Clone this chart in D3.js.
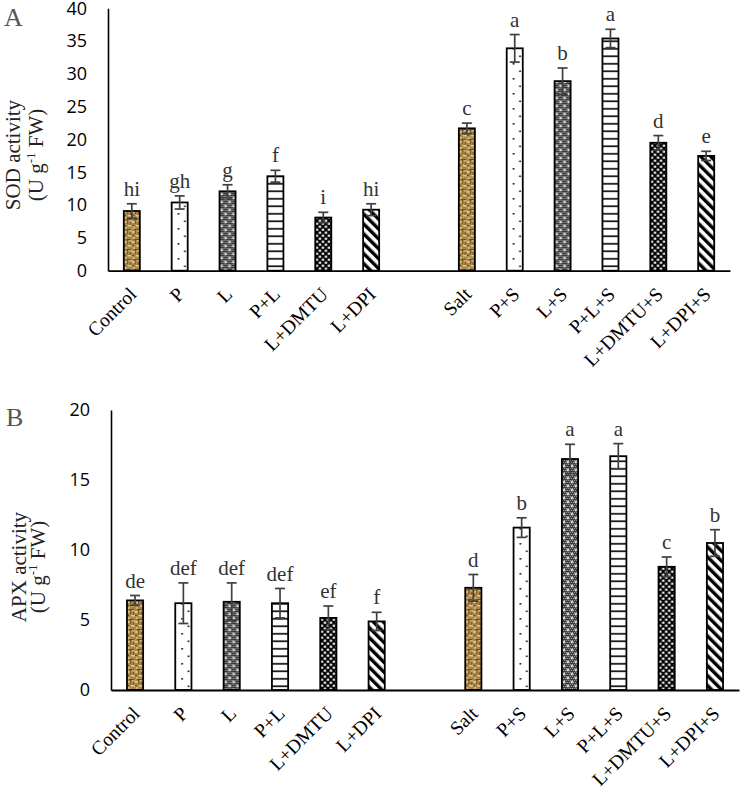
<!DOCTYPE html>
<html><head><meta charset="utf-8">
<script src="https://cdnjs.cloudflare.com/ajax/libs/d3/7.8.5/d3.min.js"></script>
<style>body{margin:0;background:#fff}svg{display:block}</style>
</head><body><svg id="c" width="740" height="789"></svg>
<script>
// ---------- data ----------
const categories = ["Control","P","L","P+L","L+DMTU","L+DPI","Salt","P+S","L+S","P+L+S","L+DMTU+S","L+DPI+S"];
const sodMean = [9.1,10.4,12.1,14.4,8.1,9.3,21.7,33.9,28.9,35.4,19.5,17.5];
const sodErr  = [1.1,1.0,1.0,0.9,0.8,0.9,0.8,2.1,2.0,1.4,1.1,0.7];
const sodLetters = ["hi","gh","g","f","i","hi","c","a","b","a","d","e"];
const sodTicks = [0,5,10,15,20,25,30,35,40];
const apxMean = [6.4,6.2,6.3,6.2,5.15,4.9,7.3,11.6,16.5,16.7,8.8,10.5];
const apxErr  = [0.35,1.45,1.35,1.05,0.85,0.65,0.95,0.7,1.05,0.9,0.7,0.95];
const apxLetters = ["de","def","def","def","ef","f","d","b","a","a","c","b"];
const apxTicks = [0,5,10,15,20];
const patternTypes = ["wood","dots","confetti","hlines","bigconfetti","diag"];

const svg = d3.select("#c");
const defs = svg.append("defs");

function makePattern(id, type, x0){
  const p = defs.append("pattern").attr("id", id).attr("patternUnits","userSpaceOnUse").attr("x", x0).attr("y", 0);
  if(type==="wood"){
    p.attr("width",8).attr("height",10);
    p.append("rect").attr("width",8).attr("height",10).attr("fill","#a9864a");
    [[0,1,3,2,"#dcc084"],[4,5,4,1.5,"#e2c98f"],[1,7,2,2,"#d4b677"],[5,0,3,1.5,"#cfae6c"],
     [3,0,1,4,"#6e5226"],[0,5,2,1,"#5e4520"],[6,2,1,3,"#745629"],[2,9,5,1,"#6a4e24"]]
      .forEach(r=>p.append("rect").attr("x",r[0]).attr("y",r[1]).attr("width",r[2]).attr("height",r[3]).attr("fill",r[4]));
  } else if(type==="dots"){
    p.attr("width",16).attr("height",15);
    p.append("rect").attr("width",16).attr("height",15).attr("fill","#fff");
    p.append("rect").attr("x",6).attr("y",3).attr("width",1.6).attr("height",1.6).attr("fill","#000");
    p.append("rect").attr("x",12.5).attr("y",10.5).attr("width",1.6).attr("height",1.6).attr("fill","#000");
  } else if(type==="confetti"){
    p.attr("width",8).attr("height",8);
    p.append("rect").attr("width",8).attr("height",8).attr("fill","#3a3a3a");
    for(let i=0;i<8;i+=2)for(let j=0;j<8;j+=2){
      p.append("rect").attr("x",i+((j/2)%2)).attr("y",j).attr("width",1).attr("height",1).attr("fill","#a0a0a0");
    }
    [[2,2],[6,6]].forEach(c=>{
      p.append("rect").attr("x",c[0]-1.5).attr("y",c[1]-0.5).attr("width",3).attr("height",1).attr("fill","#fff");
      p.append("rect").attr("x",c[0]-0.5).attr("y",c[1]-1.5).attr("width",1).attr("height",3).attr("fill","#fff");
    });
  } else if(type==="hlines"){
    p.attr("width",16).attr("height",7.5);
    p.append("rect").attr("width",16).attr("height",7.5).attr("fill","#fff");
    p.append("rect").attr("y",3).attr("width",16).attr("height",1.6).attr("fill","#000");
  } else if(type==="bigconfetti"){
    p.attr("width",6).attr("height",6);
    p.append("rect").attr("width",6).attr("height",6).attr("fill","#050505");
    p.append("rect").attr("x",0.6).attr("y",0.6).attr("width",2.2).attr("height",2.2).attr("fill","#fff");
    p.append("rect").attr("x",3.6).attr("y",3.6).attr("width",2.2).attr("height",2.2).attr("fill","#fff");
  } else if(type==="diag"){
    p.attr("width",7).attr("height",7).attr("patternTransform","rotate(-45)");
    p.append("rect").attr("width",7).attr("height",7).attr("fill","#fff");
    p.append("rect").attr("width",3.4).attr("height",7).attr("fill","#000");
  }
}

function drawPanel(cfg){
  const domain = categories.slice(0,6).concat(["__gap"], categories.slice(6));
  const x = d3.scaleBand().domain(domain).range([cfg.left, cfg.right]).paddingInner(0.665).paddingOuter(0.33);
  const y = d3.scaleLinear().domain([0, cfg.ticks[cfg.ticks.length-1]]).range([cfg.bottom, cfg.top]);
  const g = svg.append("g");

  // y axis
  const ya = g.append("g").attr("transform",`translate(${cfg.left},0)`)
    .call(d3.axisLeft(y).tickValues(cfg.ticks).tickSize(0).tickSizeOuter(0).tickPadding(21));
  ya.select(".domain").attr("stroke","#000").attr("stroke-width",1.6);
  ya.selectAll("text").attr("font-family","'Open Sans', sans-serif").attr("font-size",18).attr("fill","#000");

  // bars
  const data = categories.map((c,i)=>({c, i, m: cfg.mean[i], e: cfg.err[i], l: cfg.letters[i]}));
  data.forEach(d=>{ makePattern(`${cfg.id}-p${d.i}`, patternTypes[d.i%6], x(d.c)); });
  g.selectAll("rect.bar").data(data).join("rect").attr("class","bar")
    .attr("x", d=>x(d.c)).attr("width", x.bandwidth())
    .attr("y", d=>y(d.m)).attr("height", d=>y(0)-y(d.m))
    .attr("fill", d=>`url(#${cfg.id}-p${d.i})`).attr("stroke","#000").attr("stroke-width",1.8);

  // error bars
  const eg = g.selectAll("g.err").data(data).join("g").attr("class","err")
    .attr("stroke","#404040").attr("stroke-width",1.7);
  const cx = d=>x(d.c)+x.bandwidth()/2;
  eg.append("line").attr("x1",cx).attr("x2",cx).attr("y1",d=>y(d.m+d.e)).attr("y2",d=>y(d.m-d.e));
  eg.append("line").attr("x1",d=>cx(d)-5).attr("x2",d=>cx(d)+5).attr("y1",d=>y(d.m+d.e)).attr("y2",d=>y(d.m+d.e));
  eg.append("line").attr("x1",d=>cx(d)-5).attr("x2",d=>cx(d)+5).attr("y1",d=>y(d.m-d.e)).attr("y2",d=>y(d.m-d.e));

  // letters
  g.selectAll("text.let").data(data).join("text").attr("class","let")
    .attr("x",cx).attr("y",d=>y(d.m+d.e)-8).attr("text-anchor","middle")
    .attr("font-family","'Liberation Serif', serif").attr("font-size",21).attr("fill","#333")
    .text(d=>d.l);

  // x axis
  const xa = g.append("g").attr("transform",`translate(0,${cfg.bottom})`)
    .call(d3.axisBottom(x).tickSize(0).tickSizeOuter(0).tickFormat(d=>d==="__gap"?"":d));
  xa.select(".domain").attr("stroke","#000").attr("stroke-width",1.8);
  xa.selectAll("text").attr("font-family","'Liberation Serif', serif").attr("font-size",19.5).attr("fill","#000")
    .attr("text-anchor","end").attr("x",0).attr("y",0).attr("dy","0.35em")
    .attr("transform","translate(1,20) rotate(-45)");

  // y title
  const t = g.append("text").attr("transform",`translate(${cfg.titleX},${cfg.titleY}) rotate(-90)`)
    .attr("text-anchor","middle").attr("font-family","'Liberation Serif', serif").attr("font-size",21).attr("fill","#222");
  t.append("tspan").attr("x",0).attr("y",0).text(cfg.title);
  const t2 = t.append("tspan").attr("x",0).attr("y",cfg.titleGap);
  t2.append("tspan").text("(U g");
  t2.append("tspan").attr("font-size",13).attr("dy",-8).text("-1");
  t2.append("tspan").attr("dy",8).text(" FW)");

  // panel letter
  g.append("text").attr("x",cfg.labelX).attr("y",cfg.labelY).attr("font-family","'Liberation Serif', serif")
    .attr("font-size",26).attr("fill","#555").text(cfg.label);
}

drawPanel({id:"A", label:"A", labelX:4, labelY:26, title:"SOD activity", titleX:19.5, titleY:155, titleGap:23,
  left:108, right:730, top:8.3, bottom:270.7, ticks:sodTicks, mean:sodMean, err:sodErr, letters:sodLetters});
drawPanel({id:"B", label:"B", labelX:6, labelY:426, title:"APX activity", titleX:26, titleY:567, titleGap:18.5,
  left:111, right:739, top:410, bottom:690, ticks:apxTicks, mean:apxMean, err:apxErr, letters:apxLetters});
</script></body></html>
